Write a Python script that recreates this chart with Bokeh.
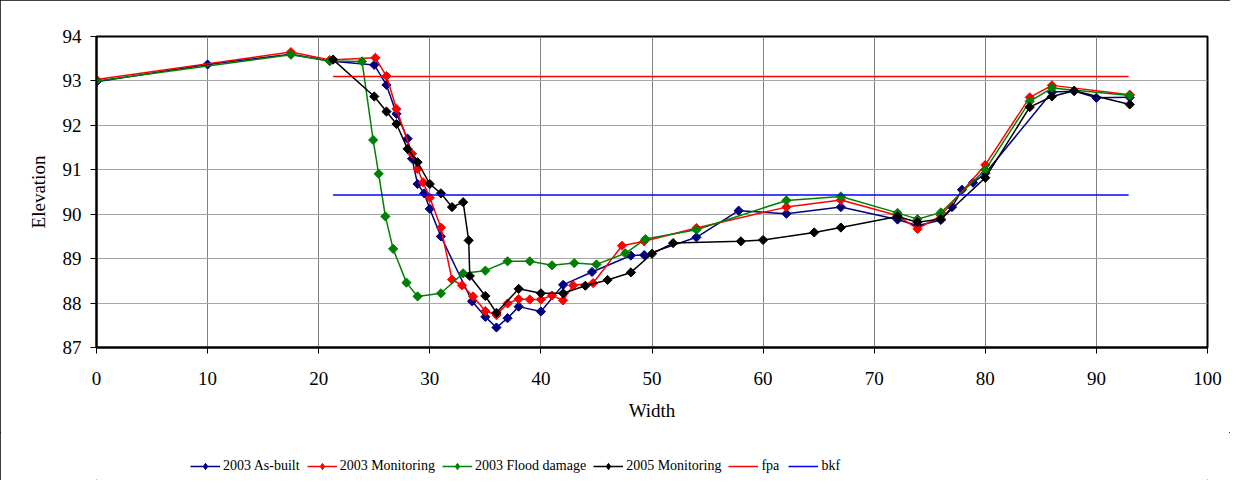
import numpy as np
from bokeh.plotting import figure
from bokeh.layouts import column
from bokeh.models import FixedTicker, Legend, LegendItem
from bokeh.embed import file_html
from bokeh.resources import INLINE

# ---- data ----
asbuilt_x = [0, 10, 17.5, 21, 25, 26.1, 27, 28, 28.4, 28.9, 29.5, 30, 31, 33.8, 35, 36, 37, 38, 40, 42,
             44.6, 48.1, 49.3, 54, 57.8, 62.1, 67, 72.1, 73.9, 76, 77, 77.9, 78.9, 80, 86, 88, 90, 93]
asbuilt_y = [92.98, 93.37, 93.60, 93.45, 93.36, 92.91, 92.26, 91.70, 91.25, 90.68, 90.47, 90.12, 89.50,
             88.04, 87.69, 87.45, 87.66, 87.92, 87.81, 88.41, 88.70, 89.07, 89.08, 89.48, 90.08, 90.01,
             90.16, 89.88, 89.74, 89.87, 90.16, 90.55, 90.71, 90.92, 92.75, 92.77, 92.62, 92.63]

monitor03_x = [0, 17.5, 21, 25.1, 26.1, 27, 28.4, 28.9, 29.4, 30, 31, 32, 32.9, 33.9, 35, 36, 37, 38, 39,
               40, 41, 42, 42.9, 44.7, 47.3, 49.3, 54, 62.1, 67, 72.1, 73.9, 76, 80, 84, 86, 93]
monitor03_y = [93.03, 93.65, 93.47, 93.52, 93.11, 92.37, 91.36, 91.02, 90.72, 90.37, 89.70, 88.53, 88.40,
               88.15, 87.82, 87.73, 87.99, 88.09, 88.08, 88.08, 88.17, 88.06, 88.40, 88.45, 89.29, 89.39,
               89.69, 90.16, 90.32, 89.97, 89.67, 89.97, 91.11, 92.63, 92.90, 92.69]

flood03_x = [0, 17.5, 21, 23.9, 24.9, 25.4, 26, 26.7, 27.9, 28.9, 31, 33, 35, 37, 39, 41, 43, 45, 47.6,
             49.4, 54, 62.1, 67, 72.1, 73.9, 76, 80, 84, 86, 93]
flood03_y = [93.00, 93.59, 93.45, 93.44, 91.67, 90.91, 89.95, 89.22, 88.46, 88.15, 88.22, 88.67, 88.73,
             88.94, 88.94, 88.85, 88.90, 88.87, 89.12, 89.44, 89.65, 90.31, 90.40, 90.03, 89.89, 90.04,
             91.00, 92.54, 92.84, 92.67]

monitor05_x = [21.3, 25, 26.1, 27, 28, 28.9, 30, 31, 32, 33, 33.5, 33.6, 35, 36, 38, 40, 42, 44, 46, 48.1,
               50, 51.9, 58, 60, 64.6, 67, 72.1, 73.9, 76, 80, 84, 86, 88, 93]
monitor05_y = [93.48, 92.65, 92.31, 92.03, 91.47, 91.17, 90.68, 90.47, 90.16, 90.27, 89.41, 88.61, 88.16,
               87.78, 88.32, 88.22, 88.22, 88.39, 88.52, 88.69, 89.11, 89.35, 89.39, 89.42, 89.59, 89.70,
               89.95, 89.82, 89.89, 90.82, 92.41, 92.65, 92.78, 92.47]

fpa_x = [21.3, 92.9]
fpa_y = [93.10, 93.10]
bkf_x = [21.3, 92.9]
bkf_y = [90.43, 90.43]

series_names = ["2003 As-built", "2003 Monitoring", "2003 Flood damage", "2005 Monitoring"]
series_colors = ["#000080", "#ff0000", "#008000", "#000000"]
x_ticks = list(range(0, 101, 10))
y_ticks = list(range(87, 95))

FONT = "Liberation Serif"

# ---------------- main chart ----------------
p = figure(width=1230, height=432, x_range=(0, 100), y_range=(87, 94),
           output_backend="svg", toolbar_location=None,
           min_border_left=96, min_border_right=23, min_border_top=36, min_border_bottom=85)
p.background_fill_color = "white"
p.border_fill_color = "white"
p.outline_line_color = "black"
p.outline_line_width = 2

p.xaxis.ticker = FixedTicker(ticks=x_ticks)
p.yaxis.ticker = FixedTicker(ticks=y_ticks)
for ax in (p.xaxis, p.yaxis):
    ax.minor_tick_line_color = None
    ax.major_tick_in = 0
    ax.major_tick_out = 6
    ax.major_tick_line_color = "black"
    ax.axis_line_color = "black"
    ax.axis_line_width = 2
    ax.major_label_text_font = FONT
    ax.major_label_text_font_size = "19px"
    ax.major_label_text_color = "black"
    ax.axis_label_text_font = FONT
    ax.axis_label_text_font_size = "19px"
    ax.axis_label_text_font_style = "normal"
    ax.axis_label_text_color = "black"
p.xaxis.axis_label = "Width"
p.yaxis.axis_label = "Elevation"
p.xaxis.major_label_standoff = 18
p.yaxis.major_label_standoff = 9
p.xaxis.axis_label_standoff = 12
p.yaxis.axis_label_standoff = 11

p.xgrid.grid_line_color = "#808080"
p.ygrid.grid_line_color = "#a6a6a6"

data = [(asbuilt_x, asbuilt_y), (monitor03_x, monitor03_y), (flood03_x, flood03_y), (monitor05_x, monitor05_y)]
for (xs, ys), col in zip(data, series_colors):
    p.line(xs, ys, line_color=col, line_width=1.5)
    p.scatter(xs, ys, marker="square", angle=np.pi / 4, size=6.5,
              fill_color=col, line_color=col, line_width=1)
p.line(fpa_x, fpa_y, line_color="#ff0000", line_width=1.5)
p.line(bkf_x, bkf_y, line_color="#0000ff", line_width=1.5)

# ---------------- legend strip (separate figure so it is not clipped) ----------------
pl = figure(width=1230, height=48, x_range=(0, 1), y_range=(0, 1),
            output_backend="svg", toolbar_location=None,
            x_axis_location=None, y_axis_location=None, min_border=0)
pl.grid.visible = False
pl.outline_line_color = None
pl.background_fill_color = "white"
pl.border_fill_color = "white"

NAN = [float("nan")]  # legend-only renderers: nothing is drawn in the strip itself
items = []
for name, col in zip(series_names, series_colors):
    ln = pl.line(NAN, NAN, line_color=col, line_width=1.5)
    sc = pl.scatter(NAN, NAN, marker="diamond", size=10, fill_color=col, line_color=col)
    items.append(LegendItem(label=name, renderers=[ln, sc]))
items.append(LegendItem(label="fpa", renderers=[pl.line(NAN, NAN, line_color="#ff0000", line_width=1.5)]))
items.append(LegendItem(label="bkf", renderers=[pl.line(NAN, NAN, line_color="#0000ff", line_width=1.5)]))

legend = Legend(items=items, orientation="horizontal", location=(94, 6),
                label_text_font=FONT, label_text_font_size="14px", label_text_color="black",
                glyph_width=30, glyph_height=16, label_standoff=3, spacing=7,
                padding=0, margin=0, border_line_color=None, background_fill_alpha=0)
pl.add_layout(legend, "center")

layout = column(p, pl, spacing=0)
layout.styles = {"outline": "1.5px solid #000000", "outline-offset": "-1px"}

open("out.html", "w").write(file_html(layout, INLINE))
